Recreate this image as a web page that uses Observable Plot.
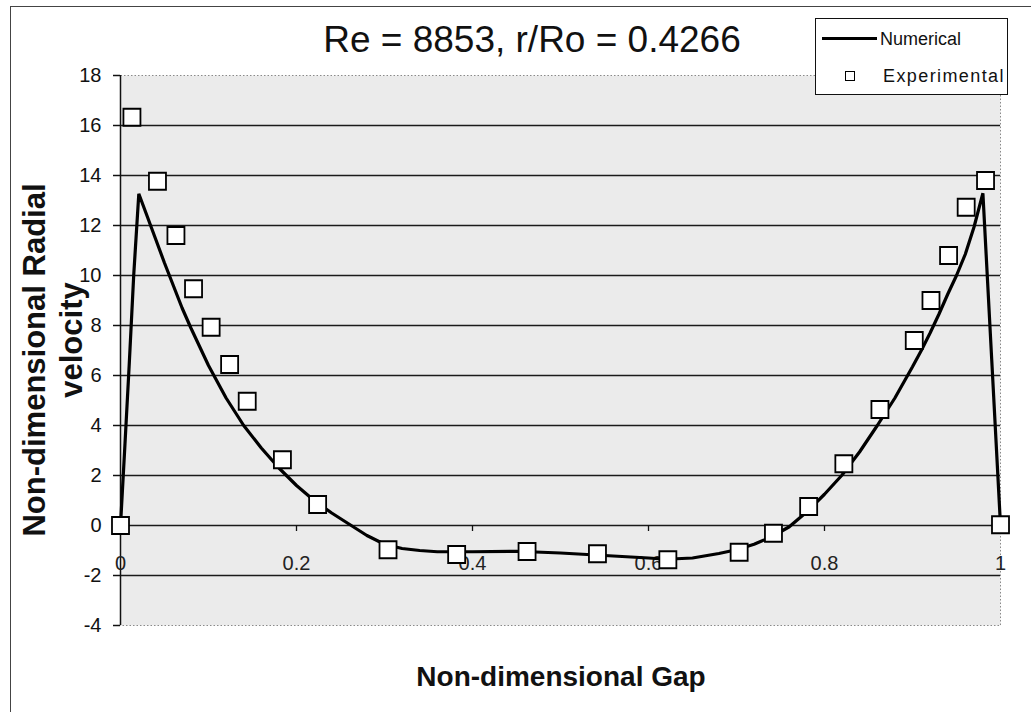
<!DOCTYPE html>
<html>
<head>
<meta charset="utf-8">
<script src="https://cdn.jsdelivr.net/npm/d3@7"></script>
<script src="https://cdn.jsdelivr.net/npm/@observablehq/plot@0.6"></script>
<style>
  html, body { margin: 0; padding: 0; background: #fff; }
  #wrap { position: relative; width: 1031px; height: 712px; font-family: "Liberation Sans", Arial, sans-serif; color: #111; overflow: hidden; }
  #border { position: absolute; left: 10px; top: 6px; width: 1040px; height: 720px; border-left: 1.5px solid #444; border-top: 1.5px solid #444; }
  .abs { position: absolute; white-space: nowrap; }
  #title { left: 0; width: 1064px; top: 18px; text-align: center; font-size: 37px; line-height: 44px; }
  #xtitle { left: 0; width: 1122px; top: 660px; text-align: center; font-size: 28px; font-weight: bold; line-height: 34px; }
  .ylab { font-size: 31px; font-weight: bold; line-height: 36px; transform: translate(-50%, -50%) rotate(-90deg); }
  #legend { position: absolute; left: 815px; top: 18px; width: 191px; height: 75px; border: 1.5px solid #111; background: #fff; }
  #legend .line { position: absolute; left: 6px; top: 18px; width: 55px; height: 3px; background: #000; }
  #legend .sq { position: absolute; left: 29px; top: 52px; width: 8px; height: 8px; border: 1.5px solid #000; background: #fff; }
  #legend .t { position: absolute; font-size: 18px; line-height: 20px; }
</style>
</head>
<body>
<div id="wrap">
  <div id="chart"></div>
  <div id="border"></div>
  <div id="title" class="abs"></div>
  <div id="xtitle" class="abs"></div>
  <div id="ylab1" class="abs ylab" style="left:35px; top:360px;"></div>
  <div id="ylab2" class="abs ylab" style="left:72px; top:340px;"></div>
  <div id="legend">
    <div class="line"></div>
    <div class="t" id="leg1" style="left:64px; top:10px;"></div>
    <div class="sq"></div>
    <div class="t" id="leg2" style="left:67px; top:47px; letter-spacing:1.4px;"></div>
  </div>
</div>
<script>
// ---- Data ----
const titleText = "Re = 8853, r/Ro = 0.4266";
const xTitle = "Non-dimensional Gap";
const yTitleLines = ["Non-dimensional Radial", "velocity"];
const seriesNames = ["Numerical", "Experimental"];

// Numerical solution (line)
const numGap = [0, 0.005, 0.01, 0.015, 0.0208, 0.03, 0.04, 0.05, 0.06, 0.07, 0.08, 0.09, 0.10, 0.12, 0.14, 0.16, 0.18, 0.20, 0.22, 0.24, 0.26, 0.28, 0.30, 0.32, 0.34, 0.36, 0.38, 0.40, 0.45, 0.50, 0.55, 0.60, 0.62, 0.65, 0.68, 0.70, 0.72, 0.74, 0.76, 0.78, 0.80, 0.82, 0.84, 0.86, 0.88, 0.90, 0.91, 0.92, 0.93, 0.94, 0.95, 0.96, 0.97, 0.98, 0.99, 1.0];
const numVel = [0, 3.2, 6.5, 10.0, 13.27, 12.4, 11.45, 10.5, 9.6, 8.7, 7.9, 7.15, 6.4, 5.1, 4.0, 3.1, 2.3, 1.6, 1.0, 0.5, 0.05, -0.4, -0.75, -0.92, -1.0, -1.05, -1.05, -1.05, -1.03, -1.1, -1.2, -1.3, -1.35, -1.3, -1.12, -0.97, -0.75, -0.45, -0.05, 0.55, 1.25, 2.02, 2.95, 4.0, 5.1, 6.35, 7.0, 7.7, 8.45, 9.25, 10.0, 10.85, 11.95, 13.29, 6.65, 0];

// Experimental data (squares)
const expGap = [0, 0.013, 0.042, 0.063, 0.083, 0.103, 0.124, 0.144, 0.184, 0.224, 0.304, 0.382, 0.462, 0.542, 0.622, 0.703, 0.742, 0.782, 0.822, 0.863, 0.902, 0.921, 0.941, 0.961, 0.983, 1.0];
const expVel = [0, 16.33, 13.77, 11.6, 9.47, 7.93, 6.44, 4.97, 2.63, 0.84, -0.97, -1.16, -1.04, -1.13, -1.37, -1.07, -0.31, 0.76, 2.47, 4.64, 7.4, 9.0, 10.8, 12.73, 13.8, 0.03];

// Axes
const xTicks = [0, 0.2, 0.4, 0.6, 0.8, 1];
const xTickLabels = ["0", "0.2", "0.4", "0.6", "0.8", "1"];
const yTicks = [-4, -2, 0, 2, 4, 6, 8, 10, 12, 14, 16, 18];
const yGrid = [-2, 0, 2, 4, 6, 8, 10, 12, 14, 16];

// ---- Build ----
const numData = numGap.map((g, i) => ({gap: g, vel: numVel[i]}));
const expData = expGap.map((g, i) => ({gap: g, vel: expVel[i]}));
const xTickData = xTicks.map((v, i) => ({v, label: xTickLabels[i]}));

const font = '"Liberation Sans", Arial, sans-serif';
const chart = Plot.plot({
  width: 1031,
  height: 712,
  marginLeft: 120,
  marginRight: 31,
  marginTop: 75,
  marginBottom: 87,
  style: {fontFamily: font, fontSize: "20px", color: "#111", background: "transparent"},
  x: {domain: [0, 1], axis: null},
  y: {domain: [-4, 18], axis: null},
  marks: [
    Plot.frame({fill: "#ebebeb", stroke: "#8a8a8a", strokeDasharray: "1.5,2", strokeWidth: 1}),
    Plot.ruleY(yGrid, {stroke: "#1a1a1a", strokeWidth: 1.4}),
    Plot.ruleX([0], {stroke: "#111", strokeWidth: 1.5}),
    Plot.axisY({ticks: yTicks, label: null, tickSize: 7, tickPadding: 12, tickFormat: d => String(d), fontSize: 20, stroke: "#111", strokeWidth: 1.5}),
    Plot.ruleX(xTickData, {x: "v", y1: 0, y2: -0.24, stroke: "#111", strokeWidth: 1.3}),
    Plot.text(xTickData, {x: "v", y: 0, dy: 38, text: "label", fontSize: 20, fill: "#222"}),
    Plot.line(numData, {x: "gap", y: "vel", stroke: "#000", strokeWidth: 3.2, curve: "linear", strokeLinejoin: "miter"}),
    Plot.dot(expData, {x: "gap", y: "vel", symbol: "square", r: 9.6, fill: "#fff", stroke: "#000", strokeWidth: 1.8})
  ]
});
document.getElementById("chart").appendChild(chart);

document.getElementById("title").textContent = titleText;
document.getElementById("xtitle").textContent = xTitle;
document.getElementById("ylab1").textContent = yTitleLines[0];
document.getElementById("ylab2").textContent = yTitleLines[1];
document.getElementById("leg1").textContent = seriesNames[0];
document.getElementById("leg2").textContent = seriesNames[1];
</script>
</body>
</html>
